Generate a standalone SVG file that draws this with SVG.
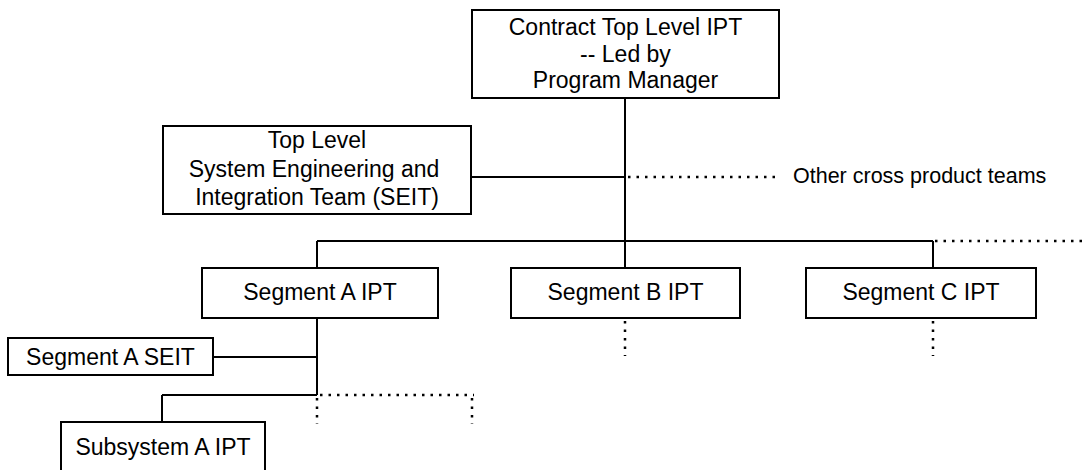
<svg xmlns="http://www.w3.org/2000/svg" width="1083" height="470" viewBox="0 0 1083 470">
<style>
.box{fill:#fff;stroke:#000;stroke-width:2}
.t{font-family:"Liberation Sans",Arial,sans-serif;font-size:23px;fill:#000;text-anchor:middle}
.ln{fill:none;stroke:#000;stroke-width:2}
.dt{fill:none;stroke:#000;stroke-width:2.5;stroke-dasharray:2.5 6}
</style>
<rect width="1083" height="470" fill="#fff"/>
<g id="connectors">
<path class="ln" d="M625 98V268M471 177H625M317 241H933M317 241V268M933 241V268M317 318V395M213 357H317M162 395H317M162 395V422"/>
<path class="dt" d="M628 177H778M935 241H1083M625 321V356M933 321V356M320 395H474M317 398V424M472 398V424"/>
</g>
<g id="top">
<rect class="box" x="472" y="10" width="307" height="88"/>
<text class="t" x="625.5" y="35">Contract Top Level IPT</text>
<text class="t" x="625.5" y="62">-- Led by</text>
<text class="t" x="625.5" y="88">Program Manager</text>
</g>
<g id="seit">
<rect class="box" x="163" y="126" width="308" height="88"/>
<text class="t" x="317" y="148">Top Level</text>
<text class="t" x="314" y="177">System Engineering and</text>
<text class="t" x="317" y="205">Integration Team (SEIT)</text>
</g>
<g id="other">
<text class="t" x="793" y="183" style="text-anchor:start;font-size:21.5px">Other cross product teams</text>
</g>
<g id="segA">
<rect class="box" x="202" y="268" width="236" height="50"/>
<text class="t" x="320" y="300">Segment A IPT</text>
</g>
<g id="segB">
<rect class="box" x="511" y="268" width="229" height="50"/>
<text class="t" x="625.5" y="300">Segment B IPT</text>
</g>
<g id="segC">
<rect class="box" x="806" y="268" width="230" height="50"/>
<text class="t" x="921" y="300">Segment C IPT</text>
</g>
<g id="segAseit">
<rect class="box" x="8" y="338" width="205" height="37"/>
<text class="t" x="110.5" y="365">Segment A SEIT</text>
</g>
<g id="subA">
<rect class="box" x="61" y="422" width="204" height="52"/>
<text class="t" x="163" y="455">Subsystem A IPT</text>
</g>
</svg>
